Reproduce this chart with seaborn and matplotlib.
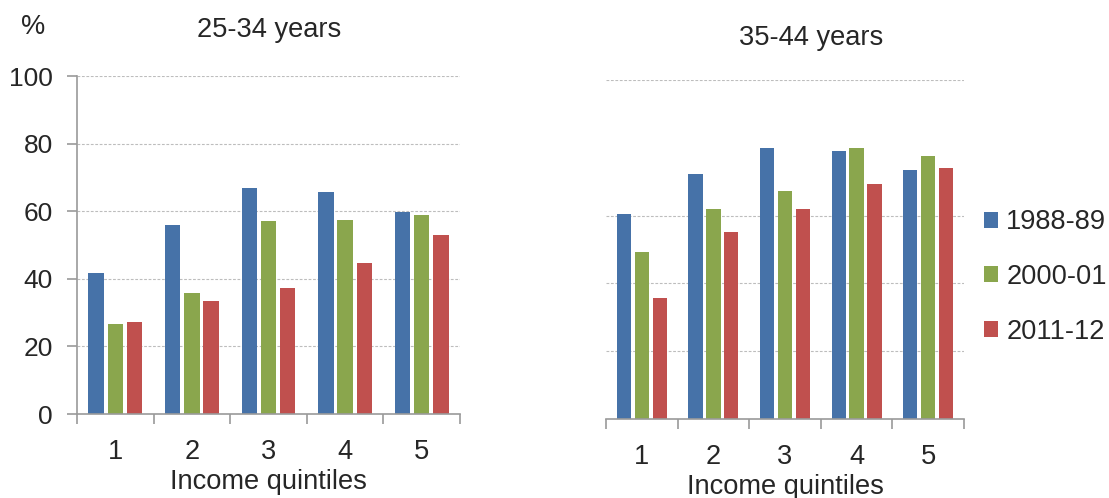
import numpy as np
import pandas as pd
import matplotlib
matplotlib.use("Agg")
import matplotlib.pyplot as plt
from matplotlib.ticker import FixedLocator, NullFormatter
import seaborn as sns

quintiles = ["1", "2", "3", "4", "5"]
periods = ["1988-89", "2000-01", "2011-12"]
colors = ["#4672A8", "#8AA64D", "#C0504E"]

# 25-34 years
young_1988 = [41.7, 56.0, 67.0, 65.6, 59.9]
young_2000 = [26.5, 35.8, 57.2, 57.5, 58.9]
young_2011 = [27.2, 33.3, 37.2, 44.7, 52.9]
# 35-44 years
older_1988 = [60.5, 72.2, 79.9, 79.0, 73.4]
older_2000 = [49.2, 61.9, 67.3, 79.9, 77.5]
older_2011 = [35.7, 55.3, 61.9, 69.2, 74.1]

panel_titles = ["25-34 years", "35-44 years"]
xlabel = "Income quintiles"
ylabel = "%"
yticks = [0, 20, 40, 60, 80, 100]
right_grid = [20, 40, 60, 100]


def long_df(a, b, c):
    rows = []
    for per, vals in zip(periods, [a, b, c]):
        for q, v in zip(quintiles, vals):
            rows.append({"quintile": q, "period": per, "value": v})
    return pd.DataFrame(rows)


df_young = long_df(young_1988, young_2000, young_2011)
df_older = long_df(older_1988, older_2000, older_2011)

sns.set_theme(style="white")
plt.rcParams["font.family"] = ["Liberation Sans", "DejaVu Sans"]
FS = 19.6
spine_c = "#9A9A9A"
grid_c = "#BDBDBD"

fig = plt.figure(figsize=(11.09, 4.98), dpi=100)
W, H = 1109, 498
ax1 = fig.add_axes([77 / W, 1 - 414 / H, (460 - 77) / W, (414 - 76) / H])
ax2 = fig.add_axes([606 / W, 1 - 419 / H, (964 - 606) / W, (419 - 80) / H])

for ax, df in [(ax1, df_young), (ax2, df_older)]:
    sns.barplot(data=df, x="quintile", y="value", hue="period",
                hue_order=periods, order=quintiles, palette=colors,
                saturation=1, width=0.75, gap=0.2, ax=ax, legend=(ax is ax2),
                edgecolor="none")
    ax.set_xlim(-0.5, 4.5)
    ax.set_ylim(0, 100)
    ax.set_ylabel("")
    ax.xaxis.set_minor_locator(FixedLocator(np.arange(-0.5, 5, 1)))
    ax.xaxis.set_minor_formatter(NullFormatter())
    ax.tick_params(axis="x", which="major", length=0, pad=18, labelsize=FS)
    ax.tick_params(axis="x", which="minor", length=7, width=1.2,
                   color=spine_c, direction="out", bottom=True)
    for s in ["top", "right"]:
        ax.spines[s].set_visible(False)
    ax.spines["bottom"].set_color(spine_c)
    ax.spines["bottom"].set_linewidth(1.2)
    ax.set_axisbelow(True)

ax1.set_xlabel(xlabel, fontsize=FS, labelpad=3)
ax2.set_xlabel(xlabel, fontsize=FS, labelpad=3)

# left panel y axis
ax1.set_yticks(yticks)
ax1.tick_params(axis="y", length=7, width=1.2, color=spine_c, direction="out",
                left=True, labelsize=19, pad=10.5)
ax1.spines["left"].set_color(spine_c)
ax1.spines["left"].set_linewidth(1.2)
ax1.yaxis.grid(True, color=grid_c, linestyle=(0, (2.5, 1.5)), linewidth=0.8)

# right panel: no y axis, gridlines only
ax2.spines["left"].set_visible(False)
ax2.set_yticks(right_grid)
ax2.tick_params(axis="y", length=0, labelleft=False)
ax2.yaxis.grid(True, color=grid_c, linestyle=(0, (2.5, 1.5)), linewidth=0.8)

# titles
fig.text(269 / W, 1 - 30 / H, panel_titles[0], fontsize=FS, ha="center", va="center")
fig.text(811 / W, 1 - 38 / H, panel_titles[1], fontsize=FS, ha="center", va="center")
fig.text(33 / W, 1 - 27 / H, ylabel, fontsize=FS, ha="center", va="center")

# legend
leg = ax2.get_legend()
handles = leg.legend_handles
leg.remove()
fig.legend(handles, periods, loc="center left",
           bbox_to_anchor=(984 / W, 1 - 277 / H), frameon=False,
           fontsize=FS, handlelength=0.52, handleheight=0.52,
           handletextpad=0.3, labelspacing=1.05, borderaxespad=0,
           borderpad=0)

fig.savefig("out.png", dpi=100)
